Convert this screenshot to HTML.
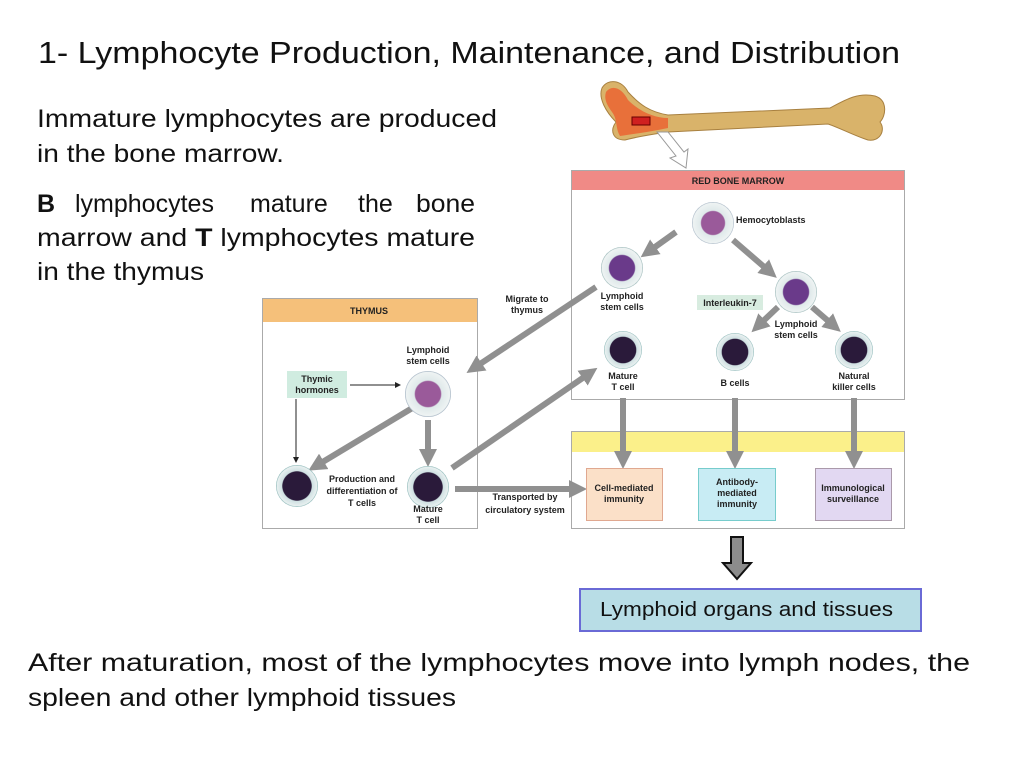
<!DOCTYPE html>
<html><head><style>
body{margin:0;background:#fff;width:1024px;height:768px;overflow:hidden;font-family:"Liberation Sans",sans-serif}
svg{position:absolute;left:0;top:0}
.s{font-family:"Liberation Sans",sans-serif;font-weight:bold;font-size:9px;fill:#222;text-anchor:middle}
.b{font-family:"Liberation Sans",sans-serif;font-size:25px;fill:#111}
</style></head><body>
<svg width="1024" height="768" viewBox="0 0 1024 768">
<defs>
<marker id="ga" markerWidth="3" markerHeight="3" refX="1.5" refY="1.5" orient="auto"><path d="M0,0 L3,1.5 L0,3z" fill="#909090"/></marker>
<marker id="ka" markerWidth="6" markerHeight="6" refX="5" refY="3" orient="auto" markerUnits="userSpaceOnUse"><path d="M0,0 L6,3 L0,6z" fill="#222"/></marker>
<radialGradient id="c1"><stop offset="0.55" stop-color="#9a5a9a"/><stop offset="0.6" stop-color="#dfe9ea"/><stop offset="0.95" stop-color="#eef3f3"/><stop offset="1" stop-color="#9ab"/></radialGradient>
<radialGradient id="c2"><stop offset="0.6" stop-color="#6a3a8a"/><stop offset="0.65" stop-color="#dfe9ea"/><stop offset="0.95" stop-color="#eef3f3"/><stop offset="1" stop-color="#8aa"/></radialGradient>
<radialGradient id="c3"><stop offset="0.68" stop-color="#2a1a3a"/><stop offset="0.72" stop-color="#cfe0e2"/><stop offset="0.95" stop-color="#e8f0f0"/><stop offset="1" stop-color="#7aa"/></radialGradient>
</defs>
<text x="38" y="63" textLength="862" lengthAdjust="spacingAndGlyphs" style="font-family:'Liberation Sans',sans-serif;font-size:31px;fill:#111">1- Lymphocyte Production, Maintenance, and Distribution</text>
<text class="b" x="37" y="127" textLength="460" lengthAdjust="spacingAndGlyphs">Immature lymphocytes are produced</text>
<text class="b" x="37" y="162" textLength="247" lengthAdjust="spacingAndGlyphs">in the bone marrow.</text>
<text class="b" y="212"><tspan x="37" font-weight="bold">B</tspan><tspan x="75">lymphocytes</tspan><tspan x="250">mature</tspan><tspan x="358">the</tspan><tspan x="416" textLength="59" lengthAdjust="spacingAndGlyphs">bone</tspan></text>
<text class="b" x="37" y="246" textLength="438" lengthAdjust="spacingAndGlyphs">marrow and <tspan font-weight="bold">T</tspan> lymphocytes mature</text>
<text class="b" x="37" y="280" textLength="167" lengthAdjust="spacingAndGlyphs">in the thymus</text>
<text class="b" x="28" y="671" textLength="942" lengthAdjust="spacingAndGlyphs">After maturation, most of the lymphocytes move into lymph nodes, the</text>
<text class="b" x="28" y="706" textLength="428" lengthAdjust="spacingAndGlyphs">spleen and other lymphoid tissues</text>

<path d="M602,88 C608,78 622,80 628,92 C640,105 650,112 668,115 L830,108 C845,100 858,92 875,96 C888,100 886,116 880,122 C886,130 880,142 868,140 C855,136 840,128 828,124 L668,132 C655,134 640,136 625,140 C612,140 610,130 616,122 C606,112 598,98 602,88z" fill="#d9b36a" stroke="#a88040" stroke-width="1"/>
<path d="M606,92 C612,84 622,88 628,100 C640,112 655,118 668,118 L668,128 C650,132 632,134 620,136 C615,128 618,120 612,112 C606,104 604,98 606,92z" fill="#e8703a"/>
<rect x="632" y="117" width="18" height="8" fill="#d02020" stroke="#600" stroke-width="1"/>
<path d="M657,132 L668,132 L684,152 L688,149 L686,168 L670,158 L676,156z" fill="#fff" stroke="#999" stroke-width="1"/>

<rect x="571.5" y="170.5" width="333" height="229" fill="#fff" stroke="#aaa"/>
<rect x="572" y="171" width="332" height="19" fill="#f08a86"/>
<text class="s" x="738" y="184">RED BONE MARROW</text>

<rect x="262.5" y="298.5" width="215" height="230" fill="#fff" stroke="#aaa"/>
<rect x="263" y="299" width="214" height="23" fill="#f5c07a"/>
<text class="s" x="369" y="314">THYMUS</text>

<rect x="571.5" y="431.5" width="333" height="97" fill="#fff" stroke="#aaa"/>
<rect x="572" y="432" width="332" height="20" fill="#fbf08a"/>

<g stroke="#909090" stroke-width="6" marker-end="url(#ga)" fill="none">
<line x1="676" y1="232" x2="648" y2="252"/>
<line x1="733" y1="240" x2="770" y2="272"/>
<line x1="778" y1="307" x2="758" y2="326"/>
<line x1="812" y1="307" x2="834" y2="326"/>
<line x1="596" y1="287" x2="474" y2="368"/>
<line x1="452" y1="468" x2="590" y2="373"/>
<line x1="623" y1="398" x2="623" y2="460"/>
<line x1="735" y1="398" x2="735" y2="460"/>
<line x1="854" y1="398" x2="854" y2="460"/>
<line x1="414" y1="407" x2="316" y2="466"/>
<line x1="428" y1="420" x2="428" y2="458"/>
<line x1="455" y1="489" x2="578" y2="489"/>
</g>
<circle cx="713" cy="223" r="21" fill="url(#c1)"/>
<text class="s" x="736" y="223" style="text-anchor:start">Hemocytoblasts</text>
<circle cx="622" cy="268" r="21" fill="url(#c2)"/>
<text class="s" x="622" y="299">Lymphoid</text><text class="s" x="622" y="310">stem cells</text>
<circle cx="796" cy="292" r="21" fill="url(#c2)"/>
<text class="s" x="796" y="327">Lymphoid</text><text class="s" x="796" y="338">stem cells</text>
<rect x="697" y="295" width="66" height="15" fill="#d8ece0"/>
<text class="s" x="730" y="306">Interleukin-7</text>
<circle cx="623" cy="350" r="19" fill="url(#c3)"/>
<text class="s" x="623" y="379">Mature</text><text class="s" x="623" y="390">T cell</text>
<circle cx="735" cy="352" r="19" fill="url(#c3)"/>
<text class="s" x="735" y="386">B cells</text>
<circle cx="854" cy="350" r="19" fill="url(#c3)"/>
<text class="s" x="854" y="379">Natural</text><text class="s" x="854" y="390">killer cells</text>

<text class="s" x="527" y="302">Migrate to</text><text class="s" x="527" y="313">thymus</text>
<text class="s" x="428" y="353">Lymphoid</text><text class="s" x="428" y="364">stem cells</text>
<circle cx="428" cy="394" r="23" fill="url(#c1)"/>
<rect x="287" y="371" width="60" height="27" fill="#d0ece0"/>
<text class="s" x="317" y="382">Thymic</text><text class="s" x="317" y="393">hormones</text>
<g stroke="#222" stroke-width="1" marker-end="url(#ka)"><line x1="350" y1="385" x2="400" y2="385"/><line x1="296" y1="399" x2="296" y2="462"/></g>
<circle cx="297" cy="486" r="21" fill="url(#c3)"/>
<circle cx="428" cy="487" r="21" fill="url(#c3)"/>
<text class="s" x="362" y="482">Production and</text><text class="s" x="362" y="494">differentiation of</text><text class="s" x="362" y="506">T cells</text>
<text class="s" x="428" y="512">Mature</text><text class="s" x="428" y="523">T cell</text>
<text class="s" x="525" y="500">Transported by</text><text class="s" x="525" y="513">circulatory system</text>

<rect x="586.5" y="468.5" width="76" height="52" fill="#fbe0c8" stroke="#e0a890"/>
<text class="s" x="624" y="491">Cell-mediated</text><text class="s" x="624" y="502">immunity</text>
<rect x="698.5" y="468.5" width="77" height="52" fill="#c8ecf4" stroke="#7cc"/>
<text class="s" x="737" y="485">Antibody-</text><text class="s" x="737" y="496">mediated</text><text class="s" x="737" y="507">immunity</text>
<rect x="815.5" y="468.5" width="76" height="52" fill="#e2d8f2" stroke="#a9a"/>
<text class="s" x="853" y="491">Immunological</text><text class="s" x="853" y="502">surveillance</text>

<path d="M731,537 L743,537 L743,563 L751,563 L737,579 L723,563 L731,563z" fill="#8c8c8c" stroke="#111" stroke-width="2"/>
<rect x="580" y="589" width="341" height="42" fill="#b8dde6" stroke="#6a6ad6" stroke-width="2"/>
<text x="600" y="616" textLength="293" lengthAdjust="spacingAndGlyphs" style="font-family:'Liberation Sans',sans-serif;font-size:20px;fill:#111">Lymphoid organs and tissues</text>
</svg>
</body></html>
